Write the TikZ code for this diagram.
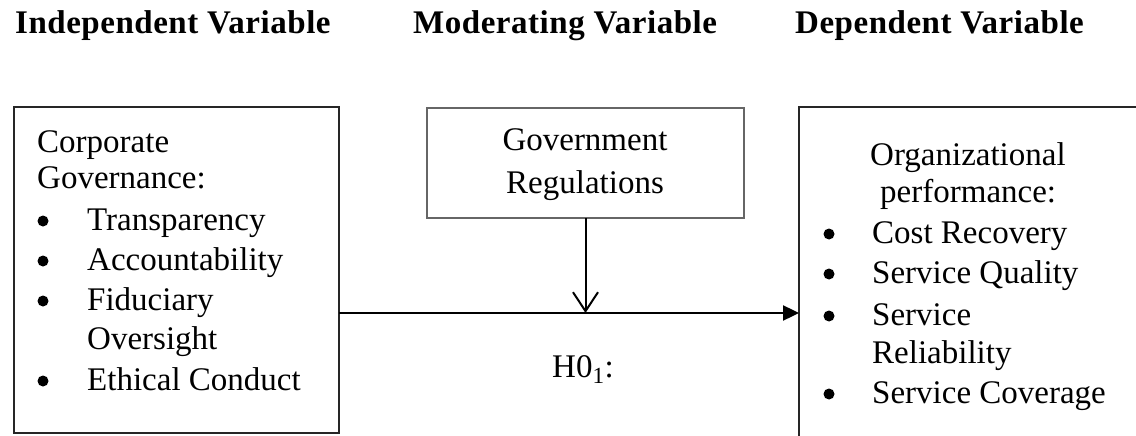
\documentclass[tikz,border=0pt]{standalone}
\usepackage{fontspec}
\setmainfont{Liberation Serif}
\usetikzlibrary{arrows.meta}
\begin{document}
\begin{tikzpicture}[x=1pt,y=-1pt,
  txt/.style={inner sep=0pt, anchor=base west, font=\fontsize{33}{40}\selectfont},
  ctxt/.style={inner sep=0pt, anchor=base, font=\fontsize{33}{40}\selectfont},
  head/.style={inner sep=0pt, anchor=base west, font=\fontsize{33}{40}\selectfont\bfseries\addfontfeature{LetterSpace=1.6}},
  dot/.style={circle, fill=black, inner sep=0pt, minimum size=11pt},
  box/.style={draw=black!85, line width=2.6pt, inner sep=0pt, outer sep=0pt},
  thinbox/.style={draw=black!60, line width=1.8pt, inner sep=0pt, outer sep=0pt},
  link/.style={line width=2.4pt, -{Triangle[length=16pt,width=15pt]}},
  modlink/.style={line width=2pt, -{Straight Barb[length=19pt,width=25pt,line width=2pt]}},
]
\useasboundingbox (0,0) rectangle (1136,436);
\clip (0,0) rectangle (1136,436);
\fill[white] (0,0) rectangle (1136,436);

% headings
\node[head] (h1) at (15,34) {Independent Variable};
\node[head] (h2) at (413,34) {Moderating Variable};
\node[head] (h3) at (795,34) {Dependent Variable};

% boxes
\node[box, minimum width=325pt, minimum height=326pt] (iv) at (176.5,270) {};
\node[thinbox, minimum width=317pt, minimum height=110pt] (mv) at (585.5,163) {};
\node[box, minimum width=361pt, minimum height=363pt] (dv) at (979.5,288.5) {};

% left box text
\node[txt] (a1) at (37,152) {Corporate};
\node[txt] (a2) at (37,188) {Governance:};
\node[dot] (b1) at (43,221) {};
\node[txt] (a3) at (87,230) {Transparency};
\node[dot] (b2) at (43,261) {};
\node[txt] (a4) at (87,270) {Accountability};
\node[dot] (b3) at (43,301) {};
\node[txt] (a5) at (87,310) {Fiduciary};
\node[txt] (a6) at (87,349) {Oversight};
\node[dot] (b4) at (43,381) {};
\node[txt] (a7) at (87,390) {Ethical Conduct};

% middle box text
\node[ctxt] (m1) at (585,150) {Government};
\node[ctxt] (m2) at (585,193) {Regulations};

% right box text
\node[txt] (c1) at (870,165) {Organizational};
\node[txt] (c2) at (880,202) {performance:};
\node[dot] (d1) at (829,234) {};
\node[txt] (c3) at (872,243) {Cost Recovery};
\node[dot] (d2) at (829,274) {};
\node[txt] (c4) at (872,283) {Service Quality};
\node[dot] (d3) at (829,316) {};
\node[txt] (c5) at (872,325) {Service};
\node[txt] (c6) at (872,363) {Reliability};
\node[dot] (d4) at (829,394) {};
\node[txt] (c7) at (872,403) {Service Coverage};

% hypothesis label
\node[txt] (hyp) at (552,377) {H0\textsubscript{1}:};

% connectors
\coordinate (j) at (585,313);
\draw[link] (iv.east |- j) -- (dv.west |- j);
\draw[modlink] (mv.south) -- (mv.south |- j);
\end{tikzpicture}
\end{document}
